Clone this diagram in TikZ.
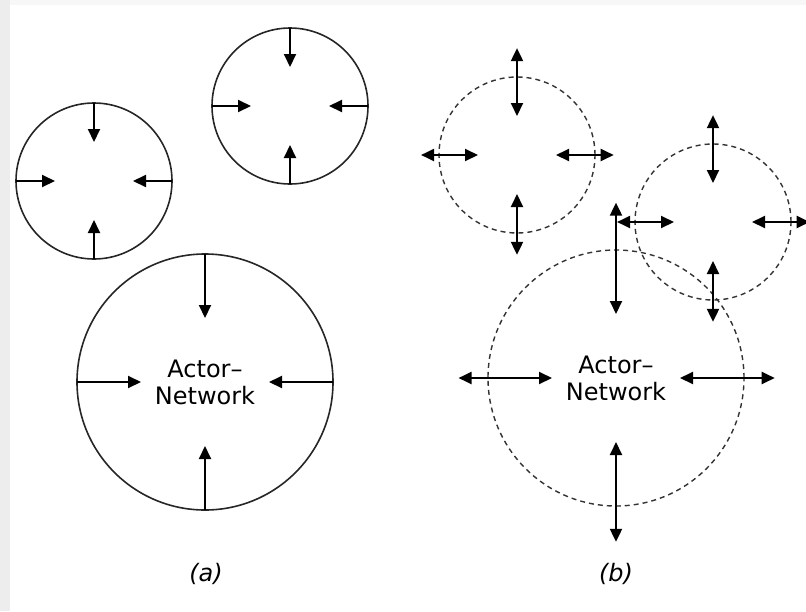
\documentclass[tikz,border=0pt]{standalone}
\usepackage{fontspec}
\setmainfont{DejaVu Sans}
\usetikzlibrary{arrows.meta,calc}

\begin{document}
\begin{tikzpicture}[
    x=1pt, y=-1pt,
    ring/.style={circle, draw=black!85, line width=1.6pt, inner sep=0pt, outer sep=0pt, minimum size=#1},
    dashring/.style={circle, draw=black!80, line width=1.4pt, dash pattern=on 5pt off 4pt, inner sep=0pt, outer sep=0pt, minimum size=#1},
    inarrow/.style={-{Triangle[length=13pt,width=12pt]}, line width=2pt},
    bothway/.style={{Triangle[length=13pt,width=12pt]}-{Triangle[length=13pt,width=12pt]}, line width=2pt},
    actor/.style={font=\fontsize{24}{27}\selectfont, align=center},
    caption/.style={font=\fontsize{24}{27}\selectfont\itshape}
]
    \useasboundingbox (0,0) rectangle (806,611);
    % page edge
    \fill[black!7] (0,0) rectangle (10,611);
    \fill[black!3] (10,0) rectangle (806,5);

    % (a) closed networks
    \node[ring=156pt] (sa) at (94,181) {};
    \node[ring=156pt] (sb) at (290,106) {};
    \node[ring=256pt, actor] (la) at (205,382) {Actor–\\Network};

    \foreach \c in {sa,sb,la}
        \foreach \a in {north,south,east,west}
            \draw[inarrow] (\c.\a) -- ($(\c.\a)!0.5!(\c.center)$);

    % (b) open networks
    \node[dashring=156pt] (sc) at (517,155) {};
    \node[dashring=156pt] (sd) at (713,222) {};
    \node[dashring=256pt, actor] (lb) at (616,378) {Actor–\\Network};

    \foreach \c in {sc,sd,lb}
        \foreach \a/\k in {north/0.37,south/0.28,west/0.23,east/0.24}
            \draw[bothway] ($(\c.\a)!-\k!(\c.center)$) -- ($(\c.\a)!0.5!(\c.center)$);

    % captions
    \node[caption] (capa) at (206,574) {(a)};
    \node[caption] (capb) at (616,574) {(b)};
\end{tikzpicture}
\end{document}
